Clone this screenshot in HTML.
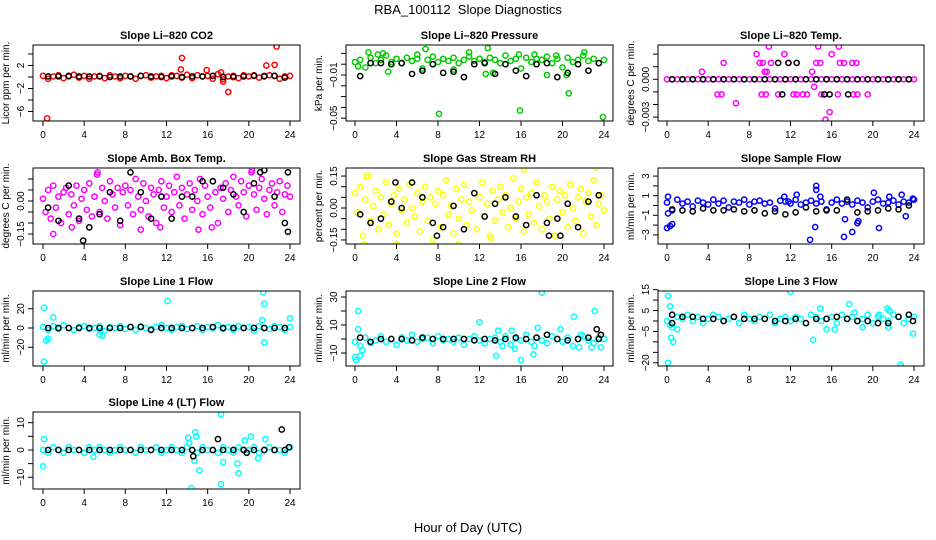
<!DOCTYPE html>
<html><head><meta charset="utf-8"><style>
html,body{margin:0;padding:0;background:#fff;}
svg{display:block;font-family:"Liberation Sans",sans-serif;}
</style></head><body>
<svg id="chart" width="936" height="540" viewBox="0 0 936 540">
<rect width="936" height="540" fill="#fff"/>
<text x="468" y="14" text-anchor="middle" font-size="13">RBA_100112&#160; Slope Diagnostics</text>
<text x="468" y="532" text-anchor="middle" font-size="13">Hour of Day (UTC)</text>
</svg>
<script>
const co2Color=[0.2,-0.3,0.1,0.3,-0.2,0.1,0.4,-0.1,0.2,-0.3,0.1,0.2,-0.2,0.3,0.1,-0.2,0.2,0.1,-0.3,0.2,0.3,-0.1,0.1,0.2,-0.2,0.3,0.2,-0.1,0.4,-0.2,0.3,0.1,0.2,-0.3,0.5,-0.4,0.1,0.2,-0.2,0.3,0.1,0.3,-0.1,0.2,0.3,0.2,-0.3,0.1,0.2];
const co2Black=[0.1,0.1,0.2,0.1,0.1,0.1,0,0.1,0.1,0.2,0.1,0,0.1,0,0.1,0.1,0.2,0,0,0.1,0.2,0.1,0.2,-0.1];
const co2Out=[[0.4,-7.2],[13.4,1.3],[13.5,3.3],[15.9,1.2],[17.3,0.8],[17.5,-0.8],[18,-2.6],[21.7,2],[22.5,2.1],[22.7,5.3]];
const co2BlackOut=[];
const presColor=[0.002,0.004,-0.003,0.006,0.001,0.004,0.008,0.002,0.005,0.001,0.006,0.003,0.005,-0.004,0.004,0.007,0.002,0.005,0.003,0.006,0.001,0.004,0.007,0.003,0.005,0.002,0.006,0.004,0.001,0.008,0.003,0.005,-0.004,0.006,0.002,0.005,0.004,0.007,0.001,0.005,-0.003,0.006,0.002,0.004,0.008,0.003,0.005,0.001,0.004];
const presBlack=[-0.011,0.001,0.001,0.0,0.001,-0.009,-0.006,0.0,-0.008,-0.007,-0.012,0.0,0.001,-0.009,0.0,-0.006,-0.011,0.0,0.001,-0.012,-0.008,0.0,-0.006,0.001];
const presOut=[[0.3,-0.002],[1.3,0.011],[2.2,0.009],[2.7,0.01],[3.2,-0.007],[6.0,0.009],[6.8,0.014],[8.1,-0.046],[9.5,-0.005],[11,0.011],[12.6,-0.009],[12.8,0.015],[13.3,-0.008],[15.8,0.009],[15.9,-0.043],[18.5,-0.01],[20.6,-0.027],[20.4,-0.01],[22.1,0.011],[23.9,-0.049],[19.4,0.008],[17.3,0.009]];
const presBlackOut=[];
const tempColor=[0,0,0,0,0,0,0,0,0,0,0,0,0,0,0,0,0,0,0,0,0,0,0,0,0,0,0,0,0,0,0,0,0,0,0,0,0,0,0,0,0,0,0,0,0,0,0,0,0];
const tempBlack=[0,0,0,0,0,0,0,0,0,0,0,0,0,0,0,0,0,0,0,0,0,0,0,0];
const tempOut=[[3.4,0.0006],[5.5,0.0013],[6.7,-0.0019],[4.9,-0.0012],[5.3,-0.0012],[8.7,0.002],[9,0.0013],[9.3,0.0013],[9.5,0.0006],[9.9,0.0026],[10.1,0.0013],[9.2,-0.0012],[9.6,-0.0012],[10.8,-0.0012],[11.4,0.002],[11.8,0.0013],[12.3,-0.0012],[12.6,-0.0012],[13.2,-0.0012],[13.6,-0.0012],[14.1,0.0006],[14.3,-0.0006],[14.5,0.0013],[14.7,0.0026],[15,-0.0012],[15.4,-0.0032],[15.8,-0.0026],[16,0.002],[16.7,0.0026],[16.8,0.0013],[17.2,0.0013],[16.6,-0.0012],[18,0.0013],[18.4,0.0013],[18.1,-0.0012],[19.5,-0.0012],[14.9,0.0013],[15.3,-0.0012],[18.5,-0.0012],[9.7,0.0006]];
const tempBlackOut=[[10.8,0.0013],[11.8,0.0013],[12.6,0.0013],[11.2,-0.0012],[15.3,-0.0012],[15.8,-0.0012],[17.6,-0.0012]];
const ambColor=[0.01,-0.05,0.05,-0.08,0.07,-0.03,0.02,-0.1,0.04,0.06,-0.06,0.03,-0.02,0.07,-0.09,0.01,0.05,-0.04,0.08,-0.07,0.02,0.12,-0.05,0.06,0.0,-0.08,0.09,0.03,-0.03,0.06,-0.11,0.04,0.07,-0.02,0.05,-0.06,0.1,0.02,-0.04,0.08,0.0,-0.07,0.06,0.03,-0.1,0.05,0.09,-0.03,0.02,0.07,-0.05,0.04,0.11,-0.02,0.06,-0.08,0.03,0.08,-0.04,0.05,0.0,0.1,-0.06,0.07,0.02,-0.03,0.09,0.04,-0.1,0.06,0.01,0.08,-0.05,0.05,0.11,0.02,-0.02,0.09,0.04,-0.07,0.07,0.13,0.03,-0.04,0.06,0.1,0.01,-0.06,0.05,0.08,-0.02,0.04,0.09,-0.05,0.03,0.07,0.02];
const ambBlack=[-0.03,-0.09,0.07,-0.08,-0.12,-0.06,0.04,-0.09,0.13,0.04,-0.08,0.02,-0.08,0.02,0.02,0.09,0.09,0.06,0.03,-0.05,0.08,0.14,0.02,-0.1];
const ambOut=[[1,-0.15],[5.3,0.13],[2.8,-0.12],[9.5,-0.13],[11.4,-0.12],[15.1,-0.13],[16.4,-0.12],[20.3,0.14]];
const ambBlackOut=[[3.9,-0.18],[23.8,-0.14],[21.1,0.13],[23.8,0.13]];
const rhColor=[0.07,-0.02,0.1,-0.13,0.04,0.15,-0.06,0.01,0.08,-0.1,0.05,-0.03,0.12,-0.08,0.02,0.06,-0.12,0.09,-0.01,0.04,-0.07,0.11,0.0,-0.04,0.07,-0.11,0.03,0.1,-0.06,0.05,-0.15,0.02,0.08,-0.09,0.06,0.13,-0.03,0.01,-0.12,0.09,-0.05,0.04,0.11,-0.08,0.03,-0.01,0.07,-0.1,0.05,0.12,-0.04,0.02,-0.13,0.08,-0.06,0.04,0.1,-0.02,0.06,-0.09,0.0,0.14,-0.05,0.03,0.09,-0.11,0.05,-0.03,0.07,-0.07,0.12,0.01,-0.1,0.06,0.03,-0.05,0.1,-0.13,0.04,0.08,-0.02,0.06,-0.09,0.11,0.0,-0.06,0.05,0.09,-0.12,0.03,0.07,-0.04,0.13,-0.08,0.02,0.06,-0.01];
const rhBlack=[-0.03,-0.07,-0.05,0.03,0.0,0.12,0.05,-0.07,-0.09,0.01,-0.1,0.07,-0.04,0.02,0.05,-0.04,-0.08,0.06,-0.07,-0.05,0.02,-0.09,0.03,0.06];
const rhOut=[[1.1,0.15],[0.9,-0.17],[4.0,-0.17],[10,-0.17],[16.3,0.18],[16.5,-0.18],[23.2,0.19],[13.1,-0.14]];
const rhBlackOut=[[3.9,0.12],[7.9,-0.13],[18.7,-0.13],[19.8,-0.13]];
const sampleColor=[0.3,-0.5,0.6,0.2,0.4,-0.1,0.5,0.3,0.1,0.6,0.2,0.5,-0.2,0.4,0.3,0.6,0.1,0.4,0.5,0.2,0.3,-0.3,0.5,0.4,0.2,0.6,0.1,0.3,0.5,0.2,0.4,-0.4,0.3,0.6,0.2,0.4,0.1,0.5,0.3,-0.2,0.4,0.6,0.2,0.3,0.5,0.1,0.4,0.3,0.6];
const sampleBlack=[-0.4,-0.5,-0.6,-0.3,-0.5,-0.5,-0.4,-0.6,-0.5,-0.8,-0.6,-0.9,-0.7,-0.2,-0.6,-0.5,-0.5,0.6,-0.7,-0.6,-0.5,-0.3,-0.4,0];
const sampleOut=[[0,-2.3],[0.3,-2.1],[0.5,-1.9],[0.1,0.9],[0.1,-0.8],[11.4,0.9],[11.8,0.4],[12.6,1.1],[13.9,-3.5],[14.5,1.6],[14.5,2.0],[14.4,-2.2],[14.9,0.9],[17.2,-3.2],[17.4,4.6],[17.3,-1.4],[18,-2.7],[18.6,-1.6],[18.5,-1.8],[20.1,1.3],[20.6,-2.3],[21.6,0.9],[22.8,1.1],[23.2,-1.1],[23.9,0.7]];
const sampleBlackOut=[];
const line1Color=[1,-2,2,-1,3,0,-2,1,2,-1,0,2,-3,1,0,2,-1,1,-2,2,0,-1,1,3,0,-2,1,2,-1,0,2,-2,1,0,3,-1,1,-2,2,0,1,-3,2,0,-1,2,1,-2,1];
const line1Black=[0,0,0,0,0,0,0,0,1,1,-2,0,0,0,0,0,1,0,0,0,0,0,0,0];
const line1Out=[[0.1,-35],[0.1,21],[0.3,-13],[0.5,-11],[1,11],[12.1,28],[21.4,37],[21.5,25],[21.5,-15],[21.3,8],[24,10],[5.5,-7],[5.8,-8]];
const line1BlackOut=[];
const line2Color=[-2,-5,1,-3,-1,2,-2,0,-4,1,-1,3,-2,0,1,-3,2,-1,0,-2,1,-4,0,2,-1,-3,0,1,-2,2,-4,0,-1,3,-2,1,-1,-3,2,0,-2,1,-5,0,2,-1,-3,1,0];
const line2Black=[1,-2,0,0,0,-1,1,0,0,0,0,-1,0,-1,0,1,0,1,3,0,-1,0,1,0];
const line2Out=[[0,-13],[0.1,-15],[0.3,20],[0.3,7],[0.5,-12],[0.7,-8],[12,12],[13.6,-12],[13.8,6],[14.2,-5],[15.1,6],[15.4,-7],[16,-15],[17.2,-11],[17.3,-5],[17.6,8],[18,33],[19.8,7],[21.1,16],[21.6,-6],[21.8,3],[22.8,-6],[23.1,20],[23.7,-6]];
const line2BlackOut=[[23.3,7],[23.7,3]];
const line3Color=[0,-3,2,1,3,0,2,-1,1,3,2,0,1,2,-1,3,1,0,2,1,3,-1,1,2,0,2,1,-1,3,2,0,1,2,-1,3,1,2,0,1,3,-1,2,1,0,3,2,-1,1,2];
const line3Black=[-1,2,2,1,1,0,2,1,1,1,0,0,1,-1,1,1,2,1,0,0,-1,-1,2,3];
const line3Out=[[0.1,12],[0.1,-20],[0.3,7],[0.4,-8],[0.6,-10],[0.3,-2],[0.5,3],[1,-4],[12,14],[14.2,-9],[14.9,6],[15.5,-4],[16.3,-4],[17.7,8],[18.2,4],[20.6,3],[21.4,6],[21.6,5],[22.7,-21],[23.9,-6],[19,-3],[21.5,-3]];
const line3BlackOut=[[0.5,3],[23.9,0]];
const line4Color=[0,-1,1,0,-1,1,0,0,-1,1,0,1,0,-1,0,1,0,0,-1,1,0,0,1,-1,0,1,0,-1,1,0,-1,1,0,0,-1,1,0,-1,1,0,0,1,-1,0,1,0,0,-1,1];
const line4Black=[0,0,0,0,0,0,0,0,0,0,0,0,0,0,0,0,0,0,0,0,0,0,0,0];
const line4Out=[[0.1,4],[0,-6],[14.1,4.5],[14.4,-14],[14.8,6.5],[14.7,-4],[15.2,-7.5],[17.3,13],[17.3,-12.5],[17.5,-4.5],[18.9,-5],[19,-8.5],[19.6,3.5],[20.2,5],[21.6,4],[20.9,-3],[4.9,-2.5],[14.2,2.5],[14.9,5]];
const line4BlackOut=[[17,4],[14.6,-2.3],[23.2,7.5],[19.8,-1],[23.9,1]];
const xTicks=[0,4,8,12,16,20,24];

const NS="http://www.w3.org/2000/svg";
const svg=document.getElementById('chart');
const cols=[{l:33,r:300,x0:43,x24:290},{l:346,r:613,x0:355,x24:604},{l:658,r:924,x0:667,x24:914}];
const rows=[{t:45,b:121},{t:168,b:244},{t:291,b:366},{t:412,b:489}];
const panels=[
 {key:'co2',title:'Slope Li\u2013820 CO2',ylab:'Licor ppm per min.',c:0,r:0,z:77,k:5.75,ticks:[-6,-4,-2,0,2,4],labs:[[-6,'\u22126'],[-2,'\u22122'],[2,'2']],col:'#ff0000',cd:co2Color,bd:co2Black,co:co2Out,bo:co2BlackOut},
 {key:'pressure',title:'Slope Li\u2013820 Pressure',ylab:'kPa per min.',c:1,r:0,z:64.2,k:1080,ticks:[0.01,0,-0.01,-0.02,-0.03,-0.04,-0.05],labs:[[-0.01,'\u22120.01'],[-0.05,'\u22120.05']],col:'#00cc00',cd:presColor,bd:presBlack,co:presOut,bo:presBlackOut},
 {key:'temp',title:'Slope Li\u2013820 Temp.',ylab:'degrees C per min.',c:2,r:0,z:79.3,k:12600,ticks:[0.002,0.001,0,-0.001,-0.002,-0.003],labs:[[0,'0.000'],[-0.003,'\u22120.003']],col:'#ff00ff',cd:tempColor,bd:tempBlack,co:tempOut,bo:tempBlackOut},
 {key:'amb-box-temp',title:'Slope Amb. Box Temp.',ylab:'degrees C per min.',c:0,r:1,z:201,k:220,ticks:[0.1,0.05,0,-0.05,-0.1,-0.15],labs:[[0,'0.00'],[-0.15,'\u22120.15']],col:'#ff00ff',cd:ambColor,bd:ambBlack,co:ambOut,bo:ambBlackOut},
 {key:'gas-stream-rh',title:'Slope Gas Stream RH',ylab:'percent per min.',c:1,r:1,z:208,k:213,ticks:[0.15,0.1,0.05,0,-0.05,-0.1,-0.15],labs:[[0.15,'0.15'],[0,'0.00'],[-0.15,'\u22120.15']],col:'#ffff00',cd:rhColor,bd:rhBlack,co:rhOut,bo:rhBlackOut},
 {key:'sample-flow',title:'Slope Sample Flow',ylab:'ml/min per min.',c:2,r:1,z:205.5,k:9.8,ticks:[3,2,1,0,-1,-2,-3],labs:[[3,'3'],[1,'1'],[-1,'\u22121'],[-3,'\u22123']],col:'#0000ff',cd:sampleColor,bd:sampleBlack,co:sampleOut,bo:sampleBlackOut},
 {key:'line1-flow',title:'Slope Line 1 Flow',ylab:'ml/min per min.',c:0,r:2,z:328,k:0.965,ticks:[20,0,-20],labs:[[20,'20'],[0,'0'],[-20,'\u221220']],col:'#00ffff',cd:line1Color,bd:line1Black,co:line1Out,bo:line1BlackOut},
 {key:'line2-flow',title:'Slope Line 2 Flow',ylab:'ml/min per min.',c:1,r:2,z:339,k:1.4,ticks:[30,20,10,0,-10],labs:[[30,'30'],[10,'10'],[-10,'\u221210']],col:'#00ffff',cd:line2Color,bd:line2Black,co:line2Out,bo:line2BlackOut},
 {key:'line3-flow',title:'Slope Line 3 Flow',ylab:'ml/min per min.',c:2,r:2,z:321,k:2.09,ticks:[15,10,5,0,-5,-10,-15,-20],labs:[[15,'15'],[5,'5'],[-5,'\u22125'],[-20,'\u221220']],col:'#00ffff',cd:line3Color,bd:line3Black,co:line3Out,bo:line3BlackOut},
 {key:'line4-flow',title:'Slope Line 4 (LT) Flow',ylab:'ml/min per min.',c:0,r:3,z:450,k:2.73,ticks:[10,5,0,-5,-10],labs:[[10,'10'],[0,'0'],[-10,'\u221210']],col:'#00ffff',cd:line4Color,bd:line4Black,co:line4Out,bo:line4BlackOut}
];
function mk(tag,attrs,parent){const e=document.createElementNS(NS,tag);for(const a in attrs)e.setAttribute(a,attrs[a]);(parent||svg).appendChild(e);return e;}
panels.forEach(p=>{
 const C=cols[p.c],R=rows[p.r];
 const xs=h=>C.x0+h*(C.x24-C.x0)/24;
 const ys=v=>p.z-v*p.k;
 const g=mk('g',{});
 
 
 const t=mk('text',{x:(C.l+C.r)/2,y:R.t-6,'text-anchor':'middle','font-size':'11','font-weight':'bold'},g);
 t.textContent=p.title;
 
 
 const yl=mk('text',{x:0,y:0,'text-anchor':'middle','font-size':'10',transform:`translate(${C.l-24},${(R.t+R.b)/2}) rotate(-90)`},g);
 yl.textContent=p.ylab;
 
 
 const clip=mk('clipPath',{id:'clip-'+p.key},g);
 mk('rect',{x:C.l,y:R.t,width:C.r-C.l,height:R.b-R.t},clip);
 const pts=mk('g',{'clip-path':`url(#clip-${p.key})`,fill:'none','stroke-width':'1.5'},g);
 
 
 const colored=p.cd.map((v,i)=>[i*24/(p.cd.length-1),v]).concat(p.co);
 colored.forEach(d=>{
  const c=mk('circle',{cx:xs(d[0]),cy:ys(d[1]),r:2.6,stroke:p.col},pts);
  
  
 });
 const black=p.bd.map((v,i)=>[0.5+i,v]).concat(p.bo);
 black.forEach(d=>{
  const c=mk('circle',{cx:xs(d[0]),cy:ys(d[1]),r:2.6,stroke:'#000'},pts);
  
  
 });
 const box=mk('rect',{x:C.l,y:R.t,width:C.r-C.l,height:R.b-R.t,fill:'none',stroke:'#000','stroke-width':'1'},g);
 
 
 const xa=mk('g',{stroke:'#000'},g);
 
 
 mk('line',{x1:xs(0),x2:xs(24),y1:R.b,y2:R.b},xa);
 xTicks.forEach(h=>{
  mk('line',{x1:xs(h),x2:xs(h),y1:R.b,y2:R.b+5},xa);
  const tl=mk('text',{x:xs(h),y:R.b+17,'text-anchor':'middle','font-size':'10',stroke:'none'},xa);
  tl.textContent=h;
  
  
 });
 const ya=mk('g',{stroke:'#000'},g);
 
 
 mk('line',{x1:C.l,x2:C.l,y1:ys(p.ticks[0]),y2:ys(p.ticks[p.ticks.length-1])},ya);
 p.ticks.forEach(v=>{mk('line',{x1:C.l-5,x2:C.l,y1:ys(v),y2:ys(v)},ya);});
 p.labs.forEach(l=>{
  const tl=mk('text',{x:0,y:0,'text-anchor':'middle','font-size':'10',stroke:'none',transform:`translate(${C.l-9},${ys(l[0])}) rotate(-90)`},ya);
  tl.textContent=l[1];
  
  
 });
});
</script>
</body></html>
